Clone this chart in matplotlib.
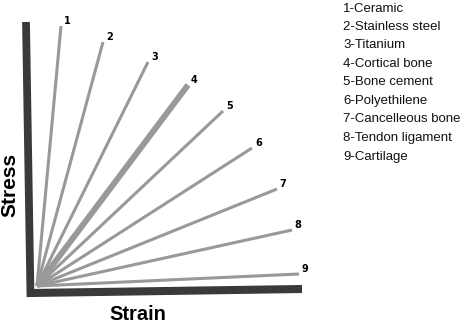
import matplotlib.pyplot as plt

# End points of each material curve (strain, stress), arbitrary units
strain_end = [24, 66, 111, 151, 186, 215, 240, 255, 262]
stress_end = [260, 244, 224, 201, 175, 138, 97, 56, 12]
curve_ids = ['1', '2', '3', '4', '5', '6', '7', '8', '9']
materials = ['Ceramic', 'Stainless steel', 'Titanium', 'Cortical bone', 'Bone cement',
             'Polyethilene', 'Cancelleous bone', 'Tendon ligament', 'Cartilage']
legend_y = [277.5, 259, 241, 222, 204, 185, 166.5, 148, 129]

fig = plt.figure(figsize=(4.62, 3.27), dpi=100)
ax = fig.add_axes([0, 0, 1, 1])
ax.set_xlim(-37, 425)
ax.set_ylim(-41, 286)
ax.axis('off')

# hand drawn looking axes
ax.plot([-11, -6.5], [264, -11], color='#3a3a3a', lw=5.6, solid_capstyle='butt')
ax.plot([-7, 265], [-7, -3], color='#3a3a3a', lw=5.8, solid_capstyle='butt')

for i in range(len(strain_end)):
    lw = 4.3 if curve_ids[i] == '4' else 2.2
    ax.plot([0, strain_end[i]], [0, stress_end[i]], color='#999999', lw=lw,
            solid_capstyle='butt')
    ax.annotate(curve_ids[i], (strain_end[i], stress_end[i]), xytext=(4.5, 3.5),
                textcoords='offset points', ha='center', va='center',
                fontsize=7, fontweight='bold', family='DejaVu Sans')

for i in range(len(materials)):
    ax.text(306, legend_y[i], curve_ids[i] + '-' + materials[i], ha='left', va='center',
            fontsize=9.5, family='Liberation Sans', color='#111111')

ax.text(-27, 101, 'Stress', rotation=90, ha='center', va='center',
        fontsize=15, fontweight='bold', family='Liberation Sans')
ax.text(101, -28, 'Strain', ha='center', va='center',
        fontsize=14.5, fontweight='bold', family='Liberation Sans')

plt.savefig('out.png', dpi=100)
